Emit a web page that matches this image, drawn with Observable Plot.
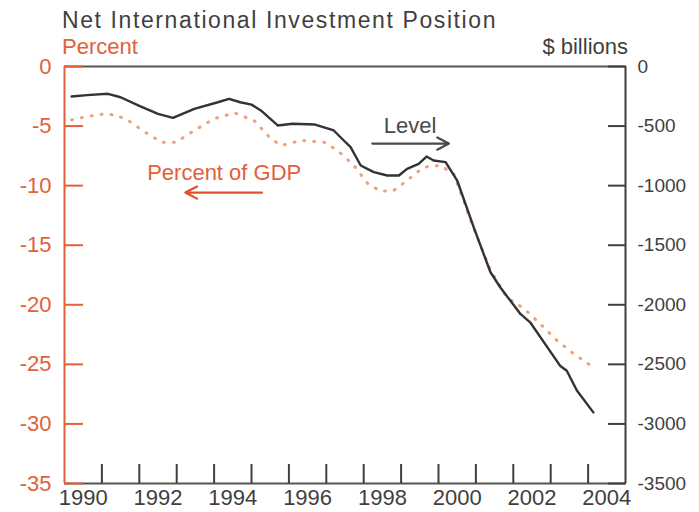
<!DOCTYPE html>
<html>
<head>
<meta charset="utf-8">
<script src="https://cdn.jsdelivr.net/npm/d3@7"></script>
<script src="https://cdn.jsdelivr.net/npm/@observablehq/plot@0.6"></script>
<style>
  html, body { margin: 0; padding: 0; background: #fff; }
  body { position: relative; width: 699px; height: 512px; overflow: hidden; font-family: "Liberation Sans", Arial, sans-serif; }
  #title { position: absolute; left: 62px; top: 0; height: 34px; padding-top: 3px; box-sizing: border-box; font-size: 23px; letter-spacing: 1.6px; color: #3f3f3f; line-height: 34px; white-space: nowrap; z-index: 2; }
  #units-l { position: absolute; left: 62px; top: 34px; font-size: 22px; line-height: 26px; color: #e2603a; white-space: nowrap; z-index: 2; }
  #units-r { position: absolute; right: 71px; top: 34px; font-size: 22px; line-height: 26px; color: #3f3f3f; white-space: nowrap; z-index: 2; }
  #chart { position: absolute; left: 0; top: 0; }
  #chart svg { display: block; }
</style>
</head>
<body>
<div id="chart"></div>
<div id="title">Net International Investment Position</div>
<div id="units-l">Percent</div>
<div id="units-r">$ billions</div>
<script>
// Net international investment position, level ($ billions)
const levelYears = [1990.19,1990.6,1991.16,1991.5,1992.0,1992.5,1992.9,1993.47,1994.1,1994.4,1994.7,1995.0,1995.25,1995.7,1996.1,1996.7,1997.2,1997.4,1997.65,1997.92,1998.27,1998.63,1998.94,1999.16,1999.47,1999.68,1999.87,2000.19,2000.5,2000.94,2001.39,2001.65,2002.19,2002.45,2003.25,2003.43,2003.7,2004.14];
const levelValues = [-252,-240,-229,-258,-330,-397,-431,-355,-300,-271,-300,-320,-369,-495,-481,-487,-537,-600,-677,-831,-887,-915,-915,-859,-817,-756,-789,-803,-957,-1349,-1727,-1853,-2077,-2147,-2511,-2553,-2720,-2903];

// Percent of GDP
const pctYears = [1990.19,1990.6,1991.07,1991.4,1991.7,1992.2,1992.59,1992.99,1993.47,1994.0,1994.54,1995.07,1995.52,1995.79,1996.32,1996.94,1997.3,1997.74,1998.1,1998.45,1998.8,1999.16,1999.6,2000.05,2000.41,2000.93,2001.39,2001.83,2002.28,2002.72,2003.17,2003.61,2004.14];
const pctValues = [-4.48,-4.2,-3.97,-4.1,-4.53,-5.6,-6.35,-6.35,-5.37,-4.39,-3.89,-4.53,-6.07,-6.63,-6.21,-6.35,-7.05,-8.31,-9.8,-10.47,-10.41,-9.57,-8.45,-8.31,-9.01,-13.5,-17.1,-19.4,-20.3,-21.6,-23.0,-24.1,-25.25];

// Axes
const leftTicks = [0,-5,-10,-15,-20,-25,-30,-35];
const rightTicks = [0,-500,-1000,-1500,-2000,-2500,-3000,-3500];
const yearLabels = [1990,1992,1994,1996,1998,2000,2002,2004];
const yearTicks = [1991,1992,1993,1994,1995,1996,1997,1998,1999,2000,2001,2002,2003,2004];

// Annotations
const labels = [
  {text: "Level", x: 1999.24, y: -4.95, color: "#4a4a4a"},
  {text: "Percent of GDP", x: 1994.27, y: -8.94, color: "#e2603a"}
];
const arrows = [
  {x1: 1998.23, x2: 2000.28, y: -6.47, color: "#4a4a4a"},
  {x1: 1995.28, x2: 1993.23, y: -10.58, color: "#e2502a"}
];

const ORANGE = "#e2603a";
const DARK = "#3f3f3f";

const level = levelYears.map((x, i) => ({x, y: levelValues[i] / 100}));
const pct = pctYears.map((x, i) => ({x, y: pctValues[i]}));

const chart = Plot.plot({
  width: 699,
  height: 512,
  marginTop: 66,
  marginBottom: 29,
  marginLeft: 64,
  marginRight: 74,
  style: {fontFamily: "'Liberation Sans', Arial, sans-serif", fontSize: "22px", background: "transparent"},
  x: {domain: [1990, 2005]},
  y: {domain: [-35, 0]},
  marks: [
    // frame lines
    Plot.ruleY([0], {stroke: "#555", strokeWidth: 2}),
    Plot.ruleY([-35], {stroke: "#555", strokeWidth: 2}),
    Plot.ruleX([1990], {stroke: ORANGE, strokeWidth: 2}),
    Plot.ruleX([2005], {stroke: DARK, strokeWidth: 2}),
    // left axis: inward ticks + labels
    Plot.axisY({anchor: "left", label: null, ticks: leftTicks, tickSize: -19, tickFormat: () => "", stroke: ORANGE, strokeWidth: 2}),
    Plot.axisY({anchor: "left", label: null, ticks: leftTicks, tickSize: 0, tickPadding: 13, tickFormat: d => String(d), fill: ORANGE, fontSize: 22}),
    // right axis
    Plot.axisY({anchor: "right", label: null, ticks: leftTicks, tickSize: -18, tickFormat: () => "", stroke: DARK, strokeWidth: 2}),
    Plot.axisY({anchor: "right", label: null, ticks: leftTicks, tickSize: 0, tickPadding: 12, tickFormat: d => String(rightTicks[leftTicks.indexOf(d)]), fill: DARK, fontSize: 19}),
    // bottom axis
    Plot.axisX({anchor: "bottom", label: null, ticks: yearTicks, tickSize: -19, tickFormat: () => "", stroke: DARK, strokeWidth: 2}),
    Plot.axisX({anchor: "bottom", label: null, ticks: yearLabels.map(d => d + 0.5), tickSize: 0, tickPadding: 6, tickFormat: d => String(Math.floor(d)), fill: DARK, fontSize: 22}),
    // series
    Plot.line(pct, {x: "x", y: "y", stroke: "#eea27c", strokeWidth: 3, strokeDasharray: "1,9", strokeLinecap: "round"}),
    Plot.line(level, {x: "x", y: "y", stroke: "#333", strokeWidth: 2.4}),
    // annotations
    Plot.text(labels, {x: "x", y: "y", text: "text", fill: "color", fontSize: 22}),
    Plot.arrow(arrows, {x1: "x1", x2: "x2", y1: "y", y2: "y", stroke: "color", strokeWidth: 2.2, headLength: 9, headAngle: 55})
  ]
});
document.getElementById("chart").appendChild(chart);
</script>
</body>
</html>
